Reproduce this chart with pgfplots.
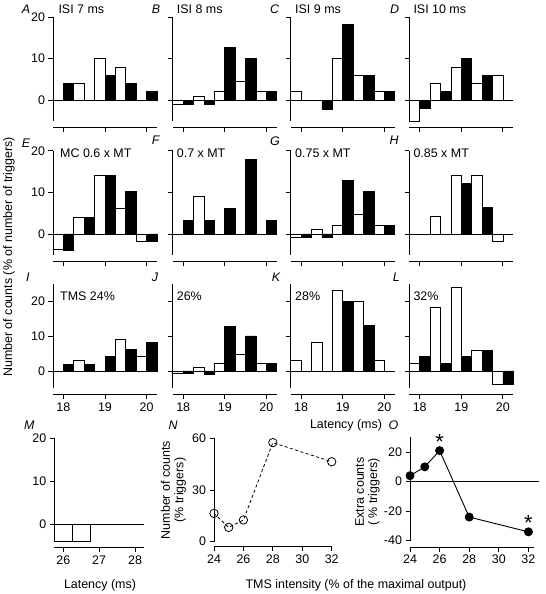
\documentclass[border=0pt]{standalone}
\usepackage{fontspec}
\setmainfont{Liberation Sans}
\usepackage{pgfplots}
\pgfplotsset{compat=1.18}
\newcommand{\fs}{\fontsize{12.5}{13.5}\selectfont}
\pgfplotsset{
  base/.style={
    scale only axis, clip=false,
    axis x line*=bottom, axis y line*=left,
    axis x line shift=6.5bp,
    tick align=outside, major tick length=4.5bp,
    axis line style={line width=0.9bp},
    every tick/.style={line width=0.9bp, black},
    tick label style={font=\fs},
    /pgf/number format/assume math mode=true,
    anchor=south west,
  },
  hist/.style={base, width=104bp, height=104bp, xmin=17.75, xmax=20.25, ymin=-5,
    xtick={18,19,20}, ytick={0,10,20}},
  nolab/.style={xticklabels={}},
  noylab/.style={yticklabels={}},
  wb/.style={ybar, bar width=0.25, bar shift=0pt, fill=white, draw=black, line width=0.8bp},
  bb/.style={ybar, bar width=0.25, bar shift=0pt, fill=black, draw=black, line width=0.8bp},
  zl/.style={black, line width=0.8bp, forget plot},
}
\begin{document}
\begin{tikzpicture}
\useasboundingbox (0,0) rectangle (546bp,594bp);
% ---------- Row 1 ----------
\begin{axis}[hist, nolab, ymax=20, at={(53bp,473bp)}]
\addplot[zl] coordinates {(17.75,0) (20.25,0)};
\addplot[wb] coordinates {(18.375,4) (18.875,10) (19.375,8)};
\addplot[bb] coordinates {(18.125,4) (19.125,6) (19.625,4) (20.125,2)};
\end{axis}
\begin{axis}[hist, nolab, noylab, ymax=20, at={(172.8bp,473bp)}]
\addplot[zl] coordinates {(17.75,0) (20.25,0)};
\addplot[wb] coordinates {(17.875,-1) (18.375,1) (18.875,2) (19.375,4.6) (19.875,2)};
\addplot[bb] coordinates {(18.125,-1) (18.625,-1) (19.125,12.7) (19.625,10.1) (20.125,2)};
\end{axis}
\begin{axis}[hist, nolab, noylab, ymax=20, at={(290.7bp,473bp)}]
\addplot[zl] coordinates {(17.75,0) (20.25,0)};
\addplot[wb] coordinates {(17.875,2) (18.875,10) (19.375,6) (19.875,2)};
\addplot[bb] coordinates {(18.625,-2.2) (19.125,18.1) (19.625,6) (20.125,2)};
\end{axis}
\begin{axis}[hist, nolab, noylab, ymax=20, at={(409.3bp,473bp)}]
\addplot[zl] coordinates {(17.75,0) (20.25,0)};
\addplot[wb] coordinates {(17.875,-5) (18.375,4) (18.875,8) (19.375,4) (19.875,6)};
\addplot[bb] coordinates {(18.125,-2) (18.625,2) (19.125,10.1) (19.625,6)};
\end{axis}
% ---------- Row 2 ----------
\begin{axis}[hist, nolab, ymax=20, at={(53bp,339.2bp)}]
\addplot[zl] coordinates {(17.75,0) (20.25,0)};
\addplot[wb] coordinates {(17.875,-3.8) (18.375,4) (18.875,14) (19.375,6.2) (19.875,-1.8)};
\addplot[bb] coordinates {(18.125,-4) (18.625,4) (19.125,14) (19.625,10.2) (20.125,-1.8)};
\end{axis}
\begin{axis}[hist, nolab, noylab, ymax=20, at={(172.8bp,339.2bp)}]
\addplot[zl] coordinates {(17.75,0) (20.25,0)};
\addplot[wb] coordinates {(18.375,9)};
\addplot[bb] coordinates {(18.125,3.2) (18.625,3.2) (19.125,6.2) (19.625,18) (20.125,3.2)};
\end{axis}
\begin{axis}[hist, nolab, noylab, ymax=20, at={(290.7bp,339.2bp)}]
\addplot[zl] coordinates {(17.75,0) (20.25,0)};
\addplot[wb] coordinates {(17.875,-0.9) (18.375,1.1) (18.875,2) (19.375,4.6) (19.875,2)};
\addplot[bb] coordinates {(18.125,-0.9) (18.625,-0.9) (19.125,12.8) (19.625,10.2) (20.125,2)};
\end{axis}
\begin{axis}[hist, nolab, noylab, ymax=20, at={(409.3bp,339.2bp)}]
\addplot[zl] coordinates {(17.75,0) (20.25,0)};
\addplot[wb] coordinates {(18.375,4.2) (18.875,14.2) (19.375,14.2) (19.875,-1.8)};
\addplot[bb] coordinates {(19.125,12.2) (19.625,6.3)};
\end{axis}
% ---------- Row 3 ----------
\begin{axis}[hist, ymax=25, at={(53bp,205.7bp)}]
\addplot[zl] coordinates {(17.75,0) (20.25,0)};
\addplot[wb] coordinates {(18.375,3.1) (19.375,9.2) (19.875,4.2)};
\addplot[bb] coordinates {(18.125,2) (18.625,2) (19.125,4.2) (19.625,6.2) (20.125,8.2)};
\end{axis}
\begin{axis}[hist, noylab, ymax=25, at={(172.8bp,205.7bp)}]
\addplot[zl] coordinates {(17.75,0) (20.25,0)};
\addplot[wb] coordinates {(17.875,-0.7) (18.375,1.1) (18.875,2.2) (19.375,4.8) (19.875,2.1)};
\addplot[bb] coordinates {(18.125,-0.7) (18.625,-0.9) (19.125,12.8) (19.625,10.1) (20.125,2.1)};
\end{axis}
\begin{axis}[hist, noylab, ymax=25, at={(290.7bp,205.7bp)}]
\addplot[zl] coordinates {(17.75,0) (20.25,0)};
\addplot[wb] coordinates {(17.875,3) (18.375,8.1) (18.875,23.1) (19.375,20) (19.875,3)};
\addplot[bb] coordinates {(19.125,20) (19.625,13.1)};
\end{axis}
\begin{axis}[hist, noylab, ymax=25, at={(409.3bp,205.7bp)}]
\addplot[zl] coordinates {(17.75,0) (20.25,0)};
\addplot[wb] coordinates {(17.875,2.1) (18.375,18.3) (18.875,24.2) (19.375,6) (19.875,-4)};
\addplot[bb] coordinates {(18.125,4.2) (18.625,2.1) (19.125,4.2) (19.625,6) (20.125,-4)};
\end{axis}
% ---------- Row 4 ----------
\begin{axis}[base, width=89.7bp, height=103.4bp, xmin=25.75, xmax=28.25, ymin=-4, ymax=20,
  xtick={26,27,28}, ytick={0,10,20}, axis x line shift=6bp, at={(54.3bp,52.3bp)}]
\addplot[zl] coordinates {(25.75,0) (28.25,0)};
\addplot[ybar, bar width=0.5, bar shift=0pt, fill=white, draw=black, line width=0.8bp]
  coordinates {(26,-4) (26.5,-4)};
\end{axis}
\begin{axis}[base, width=117.7bp, height=103.4bp, xmin=24, xmax=32, ymin=0, ymax=60,
  xtick={24,26,28,30,32}, ytick={0,30,60}, axis x line shift=5bp, at={(214bp,52.3bp)}]
\addplot[black, line width=0.8bp, dash pattern=on 3bp off 2.5bp, mark=o, mark size=4.2bp,
  mark options={solid, fill=white, line width=0.8bp}]
  coordinates {(24,16.4) (25,8.3) (26,12.6) (28,57.5) (32,46.4)};
\end{axis}
\begin{axis}[base, width=123.6bp, height=103.4bp, xmin=24, xmax=32.35, ymin=-40, ymax=30,
  xtick={24,26,28,30,32}, ytick={-40,-20,0,20}, axis x line shift=6.5bp, at={(410bp,53.3bp)}]
\addplot[zl] coordinates {(24,0) (32.72,0)};
\addplot[black, line width=0.9bp, mark=*, mark size=4bp]
  coordinates {(24,4) (25,10) (26,21) (28,-24) (32,-34)};
\node[anchor=base, inner sep=0pt, font=\fontsize{22}{22}\selectfont] at (axis cs:26,21) [yshift=1bp] {*};
\node[anchor=base, inner sep=0pt, font=\fontsize{22}{22}\selectfont] at (axis cs:32,-34) [yshift=1bp] {*};
\end{axis}
% ---------- Texts ----------
\begin{scope}[every node/.style={inner sep=0pt, font=\fs}]
\node[anchor=base west, font=\fs\itshape] at (21.7bp,580.7bp) {A};
\node[anchor=base west, font=\fs\itshape] at (151.7bp,580.7bp) {B};
\node[anchor=base west, font=\fs\itshape] at (270bp,580.7bp) {C};
\node[anchor=base west, font=\fs\itshape] at (390bp,580.7bp) {D};
\node[anchor=base west, font=\fs\itshape] at (21.7bp,446.7bp) {E};
\node[anchor=base west, font=\fs\itshape] at (151.7bp,449bp) {F};
\node[anchor=base west, font=\fs\itshape] at (270bp,448bp) {G};
\node[anchor=base west, font=\fs\itshape] at (389.3bp,449bp) {H};
\node[anchor=base west, font=\fs\itshape] at (26bp,312.3bp) {I};
\node[anchor=base west, font=\fs\itshape] at (151.7bp,312.3bp) {J};
\node[anchor=base west, font=\fs\itshape] at (271.7bp,312.3bp) {K};
\node[anchor=base west, font=\fs\itshape] at (392.7bp,312.3bp) {L};
\node[anchor=base west, font=\fs\itshape] at (24bp,164bp) {M};
\node[anchor=base west, font=\fs\itshape] at (168.3bp,164bp) {N};
\node[anchor=base west, font=\fs\itshape] at (388.3bp,164.7bp) {O};
\node[anchor=base west] at (58.3bp,580bp) {ISI 7 ms};
\node[anchor=base west] at (176.7bp,580bp) {ISI 8 ms};
\node[anchor=base west] at (295bp,580bp) {ISI 9 ms};
\node[anchor=base west] at (413.3bp,580bp) {ISI 10 ms};
\node[anchor=base west] at (60bp,436bp) {MC 0.6 x MT};
\node[anchor=base west] at (176.7bp,436bp) {0.7 x MT};
\node[anchor=base west] at (295bp,436bp) {0.75 x MT};
\node[anchor=base west] at (413.3bp,436bp) {0.85 x MT};
\node[anchor=base west] at (60bp,293.5bp) {TMS 24\%};
\node[anchor=base west] at (176.7bp,293.5bp) {26\%};
\node[anchor=base west] at (295bp,293.5bp) {28\%};
\node[anchor=base west] at (413.3bp,293.5bp) {32\%};
\node[anchor=base] at (346bp,165bp) {Latency (ms)};
\node[anchor=base] at (100bp,6bp) {Latency (ms)};
\node[anchor=base] at (356bp,6bp) {TMS intensity (\% of the maximal output)};
\node[rotate=90, anchor=center] at (9bp,337bp) {Number of counts (\% of number of triggers)};
\node[rotate=90, anchor=center, align=center] at (173.5bp,104bp) {Number of counts\\(\% triggers)};
\node[rotate=90, anchor=center, align=center] at (367.5bp,102bp) {Extra counts\\( \% triggers)};
\end{scope}
\end{tikzpicture}
\end{document}
